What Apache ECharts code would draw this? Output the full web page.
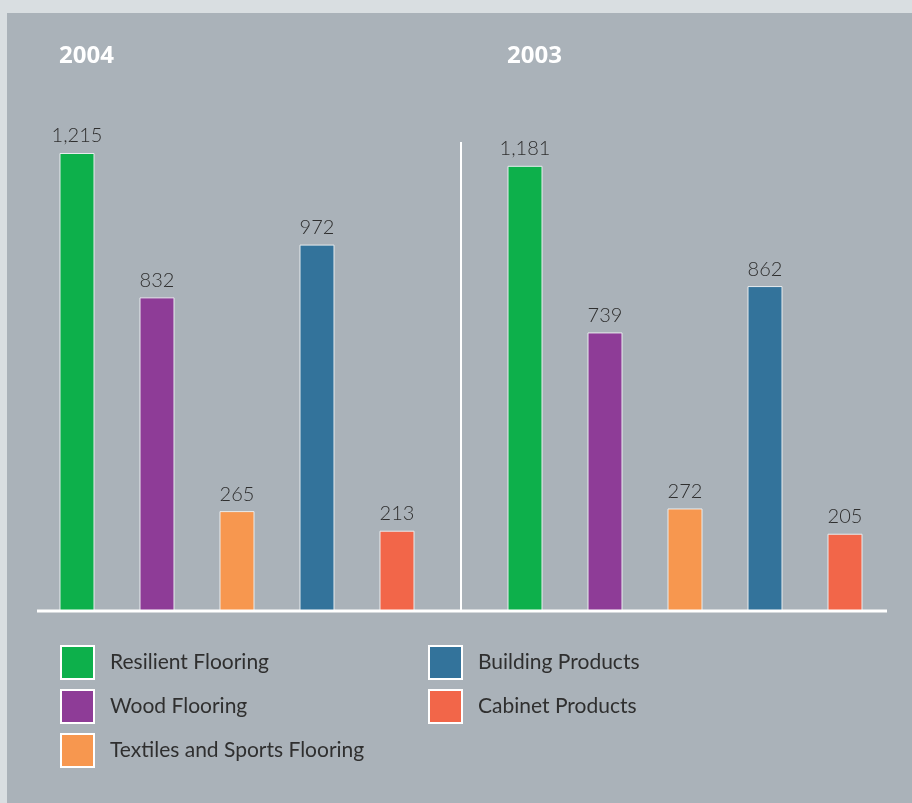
<!DOCTYPE html>
<html><head><meta charset="utf-8">
<script src="https://cdn.jsdelivr.net/npm/echarts@6/dist/echarts.min.js"></script>
<style>html,body{margin:0;padding:0;background:#d9dee1}#c{width:912px;height:803px}</style>
</head><body><div id="c"></div>
<script>
var categories = ['Resilient Flooring','Wood Flooring','Textiles and Sports Flooring','Building Products','Cabinet Products'];
var colors = ['#0db04b','#8e3c97','#f7974f','#33739b','#f26649'];
var years = ['2004','2003'];
var values2004 = [1215, 832, 265, 972, 213];
var values2003 = [1181, 739, 272, 862, 205];
var yearValues = [values2004, values2003];

var series = [];
yearValues.forEach(function(vals, g){
  categories.forEach(function(name, i){
    var d = categories.map(function(_, j){ return j === i ? vals[j] : '-'; });
    series.push({
      type:'bar', name:name, xAxisIndex:g, yAxisIndex:g, data:d,
      barWidth:35, barGap:'-100%',
      itemStyle:{color:colors[i], borderColor:'#e8ecee', borderWidth:1},
      label:{show:true, position:'top', distance:7, color:'#2f2f2f', fontSize:20, fontFamily:'Lato', fontWeight:300,
        formatter:function(p){ return p.value.toLocaleString('en-US'); }}
    });
  });
});

var legendCommon = {orient:'vertical', top:645, padding:0, itemWidth:33, itemHeight:33, itemGap:9, icon:'rect',
  itemStyle:{borderColor:'#ffffff', borderWidth:2}, selectedMode:false,
  textStyle:{color:'#2f2f2f', fontSize:21, fontFamily:'Lato', padding:[0,0,0,11], lineHeight:24}};

var chart = echarts.init(document.getElementById('c'), null, {renderer:'canvas'});
chart.setOption({
  backgroundColor:'transparent',
  animation:false,
  title:[
    {text:years[0], left:54, top:39, textStyle:{color:'#ffffff', fontSize:24, fontWeight:'bold', fontFamily:'Open Sans'}},
    {text:years[1], left:502, top:39, textStyle:{color:'#ffffff', fontSize:24, fontWeight:'bold', fontFamily:'Open Sans'}}
  ],
  grid:[
    {left:37, width:400, top:45.57, bottom:192},
    {left:485, width:400, top:45.57, bottom:192}
  ],
  xAxis:[0,1].map(function(g){ return {type:'category', gridIndex:g, data:categories, axisLine:{show:false}, axisTick:{show:false}, axisLabel:{show:false}}; }),
  yAxis:[0,1].map(function(g){ return {type:'value', gridIndex:g, min:0, max:1500, show:false, splitLine:{show:false}}; }),
  legend:[
    Object.assign({data:categories.slice(0,3), left:60}, legendCommon),
    Object.assign({data:categories.slice(3), left:428}, legendCommon)
  ],
  graphic:[
    {type:'rect', z:-10, shape:{x:7, y:13, width:905, height:790}, style:{fill:'#aab2b9'}},
    {type:'line', z:10, shape:{x1:37, y1:611, x2:887, y2:611}, style:{stroke:'#ffffff', lineWidth:3}},
    {type:'line', z:10, shape:{x1:461, y1:142, x2:461, y2:611}, style:{stroke:'#ffffff', lineWidth:2}}
  ],
  series:series
});
</script></body></html>
